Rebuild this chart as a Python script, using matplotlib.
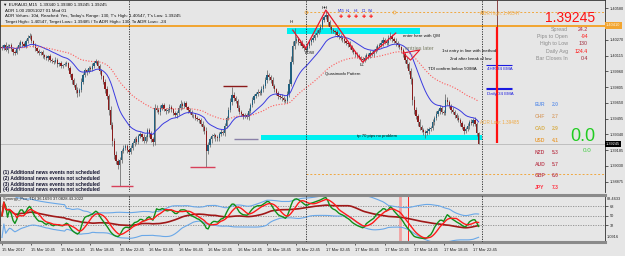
import numpy as np
import pandas as pd
import matplotlib
matplotlib.use("Agg")
import matplotlib.pyplot as plt
from matplotlib.patches import Rectangle

plt.rcParams['font.family'] = ['Liberation Sans', 'DejaVu Sans']

# ---- data: EURAUD M15, prices in pips above 1.3800 ----
first_open = 220
closes = [
    219, 222, 217, 221, 222, 218, 215, 214, 219, 222, 225, 223, 221, 226, 229, 231, 226, 222, 219, 216,
    214, 215, 212, 210, 209, 211, 207, 206, 205, 207, 203, 204, 201, 202, 203, 204, 199, 193, 187, 183,
    178, 175, 178, 186, 192, 197, 195, 199, 198, 201, 204, 206, 201, 196, 191, 186, 179, 172, 158, 143,
    128, 114, 108, 104, 109, 118, 121, 123, 119, 117, 121, 126, 129, 127, 132, 134, 131, 128, 131, 138,
    134, 129, 127, 160, 158, 156, 160, 163, 159, 157, 158, 161, 159, 155, 153, 155, 160, 164, 162, 165,
    161, 158, 156, 153, 153, 150, 149, 148, 144, 141, 137, 118, 124, 129, 132, 133, 131, 130, 134, 136,
    135, 142, 150, 158, 166, 173, 170, 167, 160, 156, 154, 152, 153, 151, 157, 163, 168, 172, 174, 176,
    175, 179, 182, 187, 192, 190, 187, 182, 179, 175, 172, 171, 170, 168, 167, 174, 184, 205, 221, 226,
    228, 225, 224, 221, 219, 217, 221, 225, 227, 229, 232, 234, 237, 240, 246, 249, 251, 244, 240, 237,
    236, 235, 232, 230, 229, 228, 226, 224, 223, 220, 217, 215, 213, 211, 210, 208, 207, 209, 212, 211,
    214, 213, 216, 218, 221, 222, 224, 227, 225, 224, 229, 231, 228, 226, 224, 222, 220, 217, 213, 207,
    203, 196, 188, 168, 158, 152, 146, 141, 138, 136, 135, 137, 139, 140, 146, 150, 154, 157, 160, 156,
    155, 168, 166, 162, 158, 156, 153, 150, 148, 145, 141, 137, 139, 142, 146, 145, 148, 144, 135, 124.5,
]
up_wick = [
    2, 1, 3, 2, 1, 2, 1, 2, 2, 3, 2, 1, 2, 2, 3, 3, 2, 1, 2, 1,
    2, 1, 2, 1, 2, 1, 2, 2, 1, 3, 2, 1, 2, 1, 2, 2, 1, 2, 1, 2,
    2, 3, 2, 3, 2, 2, 1, 2, 2, 3, 2, 2, 1, 2, 2, 1, 2, 3, 2, 4,
    3, 2, 4, 2, 3, 2, 3, 2, 2, 1, 3, 2, 2, 3, 2, 2, 1, 3, 2, 2,
    2, 3, 2, 4, 3, 2, 3, 2, 2, 1, 2, 3, 2, 1, 2, 2, 3, 4, 2, 2,
    2, 1, 2, 2, 1, 2, 2, 1, 2, 3, 2, 4, 3, 2, 2, 2, 1, 2, 2, 3,
    2, 3, 2, 3, 4, 8, 3, 2, 2, 3, 2, 1, 2, 2, 3, 2, 3, 2, 2, 3,
    2, 3, 2, 3, 5, 2, 2, 3, 2, 1, 2, 2, 3, 2, 2, 3, 4, 6, 5, 13,
    3, 2, 2, 3, 2, 2, 3, 2, 2, 3, 2, 3, 2, 3, 3, 2, 4, 3, 2, 2,
    2, 1, 2, 2, 3, 2, 2, 1, 2, 3, 2, 2, 1, 2, 2, 1, 2, 3, 2, 2,
    3, 2, 2, 3, 2, 2, 3, 3, 2, 2, 3, 4, 2, 2, 3, 2, 2, 1, 2, 2,
    3, 2, 3, 2, 4, 3, 2, 3, 2, 2, 2, 3, 2, 2, 3, 2, 3, 2, 3, 2,
    2, 6, 3, 2, 2, 3, 2, 2, 3, 2, 2, 3, 2, 3, 2, 3, 2, 3, 2, 1,
]
dn_wick = [
    2, 2, 1, 3, 2, 2, 3, 2, 1, 2, 2, 3, 1, 2, 2, 1, 2, 2, 3, 2,
    2, 2, 3, 2, 2, 3, 2, 2, 2, 1, 3, 2, 2, 2, 1, 2, 2, 3, 3, 2,
    3, 4, 3, 2, 2, 2, 3, 1, 2, 2, 2, 1, 2, 3, 3, 2, 4, 3, 5, 4,
    5, 4, 3, 4, 21, 3, 2, 2, 3, 2, 2, 2, 3, 2, 2, 2, 3, 2, 2, 3,
    3, 2, 4, 3, 2, 2, 3, 2, 2, 3, 2, 2, 3, 2, 2, 3, 2, 2, 3, 2,
    2, 3, 2, 2, 3, 2, 2, 3, 2, 4, 3, 16, 3, 2, 3, 2, 3, 2, 2, 2,
    2, 3, 2, 2, 2, 3, 3, 2, 3, 2, 2, 3, 2, 2, 3, 2, 2, 3, 2, 2,
    2, 2, 3, 2, 2, 3, 2, 2, 3, 2, 3, 2, 3, 2, 2, 2, 3, 2, 2, 3,
    2, 3, 2, 2, 3, 2, 2, 2, 3, 2, 2, 2, 1, 2, 2, 2, 2, 3, 2, 3,
    2, 3, 2, 2, 2, 3, 2, 2, 3, 2, 2, 2, 3, 2, 2, 2, 3, 2, 2, 3,
    2, 2, 3, 2, 2, 2, 2, 3, 2, 2, 2, 2, 3, 2, 3, 2, 2, 3, 3, 3,
    4, 3, 4, 5, 4, 3, 4, 3, 2, 3, 5, 2, 3, 2, 2, 3, 2, 2, 3, 2,
    2, 2, 3, 2, 3, 2, 3, 2, 2, 3, 2, 3, 2, 2, 3, 2, 3, 2, 3, 0,
]

time_labels = ["15 Mar 2017", "15 Mar 10:45", "15 Mar 14:45", "15 Mar 18:45", "15 Mar 22:45",
               "16 Mar 02:45", "16 Mar 06:45", "16 Mar 10:45", "16 Mar 14:45", "16 Mar 18:45",
               "16 Mar 22:45", "17 Mar 02:45", "17 Mar 06:45", "17 Mar 10:45", "17 Mar 14:45",
               "17 Mar 18:45", "17 Mar 22:45"]
label_step = 16
day_breaks = [69, 165, 261]

# 1.40425 is hidden under the orange level box, so it is left out
price_ticks = [258.0, 227.0, 211.5, 196.0, 180.5, 165.0, 149.5, 134.0, 118.5, 103.0, 87.5]
adr_high, adr_low = 254.7, 94.85
orange_level = 241.0
adr_marks = [165, 213, 261]

# drawn objects (bar index, pips)
zz_bars = [158, 165, 176, 196, 214]
zz_pips = [236.5, 218.8, 256.2, 205.0, 233.6]
tri_bars = [218, 227, 222, 218]
tri_pips = [214.0, 217.0, 207.0, 214.0]
zones = [(155, 227, 232.7, 238.6), (141, 261, 128.5, 133.4)]
swing_lines = [(59, 71, 83.0, '#d8405a'), (102, 116, 101.7, '#d8405a'),
               (120, 133, 181.5, '#8b1a1a'), (126, 139, 129.4, '#8a80a8')]
ema_levels = [(263, 277, 201.3), (263, 277, 176.7)]
signal_bar = 269
tdi_marks = [216.3, 220.7]

info_names = ["Spread", "Pips to Open", "High to Low", "Daily Avg", "Bar Closes In"]
info_values = ["24.2", "-94", "130", "124.4", "0:4"]
info_colors = ["#b0203a", "#ff2020", "#a03040", "#ff1010", "#a02030"]
ccy_names = ["EUR", "CHF", "CAD", "USD", "NZD", "AUD", "GBP", "JPY"]
ccy_values = [2.0, 2.7, 2.9, 4.1, 5.3, 5.7, 6.0, 7.3]
ccy_colors = ["#6f9be8", "#d9a878", "#d8b050", "#e8a040", "#c05060", "#c05060", "#c05060", "#ff3040"]

news = ["(1) Additional news events not scheduled", "(2) Additional news events not scheduled",
        "(3) Additional news events not scheduled", "(4) Additional news events not scheduled"]

# ---- figure ----
W, H = 625, 256
BG = '#e6e6e6'
fig = plt.figure(figsize=(W / 100, H / 100), dpi=100, facecolor=BG)


def P(p):
    return 1.38 + np.asarray(p, dtype=float) / 1e4


def ftext(x, y, s, **kw):
    kw.setdefault('va', 'center')
    return fig.text(x / W, 1 - y / H, s, **kw)


ax = fig.add_axes([0, 1 - 192 / H, 605 / W, 192 / H], facecolor=BG)
ax2 = fig.add_axes([0, 1 - 242 / H, 605 / W, 47 / H], facecolor=BG)

c = np.array(closes, dtype=float)
n = len(c)
x = np.arange(n)
o = np.r_[first_open, c[:-1]]
hi = np.maximum(o, c) + np.array(up_wick)
lo = np.minimum(o, c) - np.array(dn_wick)
bull = c >= o

# zones under candles
for b0, b1, p0, p1 in zones:
    ax.add_patch(Rectangle((b0, P(p0)), b1 - b0, (p1 - p0) / 1e4, color='#00f0f0', lw=0, zorder=1))

ax.axhline(P(c[-1]), color='#b8b8b8', lw=0.6, zorder=1)
ax.axhline(P(orange_level), color='#f2a530', lw=1.4, zorder=1)
ax.hlines(P([adr_high, adr_low]), day_breaks[1], 330, color='#f0a840', lw=0.7,
          linestyles=(0, (2, 2)), zorder=1)
ax.plot(adr_marks, P([adr_high] * len(adr_marks)), 'o', ms=2.2, mfc='none', mec='#f0a840', mew=0.5)

ax.vlines(x, P(lo), P(hi), color='#5c5c5c', lw=0.5, zorder=2)
body = np.maximum(np.abs(c - o), 0.5) / 1e4
ax.bar(x, body, bottom=P(np.minimum(o, c)), width=0.7,
       color=np.where(bull, '#21607e', '#8a1c1c'), lw=0, zorder=3)

s = pd.Series(c)
ax.plot(x, P(s.ewm(span=21, adjust=False).mean()), color='#3a3ae0', lw=0.7, zorder=4)
ax.plot(x, P(s.ewm(span=60, adjust=False).mean()), color='#ff5a5a', lw=0.8,
        ls=(0, (1, 1.5)), zorder=4)

for d in day_breaks:
    ax.axvline(d, color='#202020', lw=0.6, ls=(0, (1.5, 1.5)), zorder=5)
    ax2.axvline(d, color='#202020', lw=0.6, ls=(0, (1.5, 1.5)), zorder=5)

ax.plot(zz_bars, P(zz_pips), color='#e8162c', lw=0.9, zorder=6)
ax.plot(tri_bars, P(tri_pips), color='#e8162c', lw=0.8, zorder=6)
for b0, b1, p, col in swing_lines:
    ax.hlines(P(p), b0, b1, color=col, lw=1.0, zorder=6)
ax.hlines(P(ema_levels[0][2] + 0.8), ema_levels[0][0], ema_levels[0][1], color='#1a1ae0', lw=0.8)
for b0, b1, p in ema_levels[1:]:
    ax.hlines(P([p + 1.5, p + 3.0]), b0, b1, color='#1a1ae0', lw=0.8)
ax.vlines(signal_bar, P(239.6), P(270), color='#7a2a2a', lw=0.6, zorder=6)
ax.vlines(signal_bar, P(125.5), P(239.6), color='#ff1010', lw=1.6, zorder=6)

ax.set_xlim(-1.1, 327.7)
ax.set_ylim(P(77.4), P(266.1))
ax.set_xticks([])
ax.yaxis.tick_right()
ax.set_yticks(P(price_ticks))
ax.set_yticklabels([f"{v:.5f}" for v in P(price_ticks)])
ax.tick_params(axis='y', labelsize=2.8, length=2, width=0.5, pad=1.5, colors='#202020')
for sp in ['top', 'left', 'right']:
    ax.spines[sp].set_color('#303030')
    ax.spines[sp].set_linewidth(0.6)
ax.spines['bottom'].set_visible(False)

# ---- TDI ----
d = s.diff().fillna(0)
gain = d.clip(lower=0).ewm(alpha=1 / 13, adjust=True).mean()
loss = (-d).clip(lower=0).ewm(alpha=1 / 13, adjust=True).mean()
rsi = (100 - 100 / (1 + gain / loss)).fillna(50)
green = rsi.rolling(2, min_periods=1).mean()
red = rsi.rolling(7, min_periods=1).mean()
base = rsi.rolling(34, min_periods=1).mean()
sd = rsi.rolling(34, min_periods=2).std(ddof=0).bfill()
for lv in (68, 50, 32):
    ax2.axhline(lv, color='#8c8c8c', lw=0.6, ls=(0, (1.5, 1.5)))
for m, col, lw in zip(tdi_marks, ['#f2a0a0', '#ff2020'], [2.0, 0.7]):
    ax2.axvline(m, color=col, lw=lw)
ax2.plot(x, base + 1.6185 * sd, color='#6aa8e8', lw=0.8)
ax2.plot(x, base - 1.6185 * sd, color='#6aa8e8', lw=0.8)
ax2.plot(x, base, color='#a01818', lw=1.2)
ax2.plot(x, green, color='#10901a', lw=1.0)
ax2.plot(x, red, color='#ff1a1a', lw=1.0)
ax2.set_xlim(-1.1, 327.7)
ax2.set_ylim(1.0916, 88.4633)
ax2.yaxis.tick_right()
ax2.set_yticks([68, 50, 32])
ax2.set_yticklabels(["68", "50", "32"])
ax2.tick_params(axis='y', labelsize=2.8, length=2, width=0.5, pad=1.5, colors='#202020')
ax2.set_xticks(np.arange(len(time_labels)) * label_step)
ax2.set_xticklabels(time_labels, ha='left')
ax2.tick_params(axis='x', labelsize=3, length=2, width=0.5, pad=2.5, colors='#202020')
for sp in ['top', 'bottom']:
    ax2.spines[sp].set_color('#8a8a8a')
    ax2.spines[sp].set_linewidth(2.2)
for sp in ['left', 'right']:
    ax2.spines[sp].set_color('#303030')
    ax2.spines[sp].set_linewidth(0.6)
ftext(3, 199, "Synergy_Pro_TDI 36.1693 37.0828 43.2022", fontsize=3, color='#202020')
ftext(607, 199, "88.4633", fontsize=2.8, color='#202020')
ftext(607, 237, "1.0916", fontsize=2.8, color='#202020')

# ---- texts on main panel ----
ftext(3, 5, "\u25bc EURAUD,M15  1.39340 1.39380 1.39245 1.39245", fontsize=3.2, color='#101010')
ftext(5, 11, "ADR 1.00 20051027 01 Mod 01", fontsize=3.2, color='#101010')
ftext(5, 16.5, "ADR Values: 10d, Reached: Yes, Today's Range: 130, T's High: 1.40547, T's Low: 1.39245",
      fontsize=3.2, color='#101010')
ftext(5, 22, "Target High= 1.40547, Target Low= 1.39485 / To ADR High= 130, To ADR Low= -24",
      fontsize=3.2, color='#101010')
for k, line in enumerate(news):
    ftext(3, 172.5 + 5.8 * k, line, fontsize=3.5, fontweight='bold', color='#141430')

ftext(480, 14, "ADR High: 1.40547", fontsize=3.3, color='#f0a840')
ftext(480, 123, "ADR Low: 1.39485", fontsize=3.3, color='#f0a840')
ftext(291, 22, "H", fontsize=3.2, ha='center', color='#101010')
ftext(325, 8, "HH", fontsize=3.2, ha='center', color='#101010')
ftext(305, 53, "LOW", fontsize=3.2, color='#101010')
ftext(362, 64.5, "LL", fontsize=3.2, ha='center', color='#101010')
ftext(325, 74, "Quasimodo Pattern", fontsize=3, color='#101010')
ftext(403, 35.5, "enter here with QM", fontsize=3.2, color='#101010')
ftext(405, 48, "entries later", fontsize=4, color='#7c8068')
ftext(442, 51, "1st entry in line with method", fontsize=3.2, color='#101010')
ftext(450, 59.5, "2nd after break of low", fontsize=3.2, color='#101010')
ftext(428, 69.5, "TDI confirm below 50/MA", fontsize=3.2, color='#101010')
ftext(487, 69.5, "4HR 34 EMA", fontsize=3.2, color='#1a1ae0')
ftext(487, 94, "Daily 34 EMA", fontsize=3.2, color='#1a1ae0')
ftext(357, 136, "tp 70 pips no problem", fontsize=3.1, color='#101010')
for k, tf in enumerate(["M15", "H1", "H4", "D1", "W1"]):
    ftext(341 + 7.5 * k, 11, tf, fontsize=2.6, ha='center', color='#3030d0')
    ftext(341 + 7.5 * k, 16, "\u271a", fontsize=3.6, ha='center', color='#ff1010')

# info panel
ftext(595, 18.5, "1.39245", fontsize=10, ha='right', color='#ff1010')
for k, (nm, val, col) in enumerate(zip(info_names, info_values, info_colors)):
    ftext(568, 29.5 + 7.2 * k, nm, fontsize=3.8, ha='right', color='#8c8c8c')
    ftext(588, 29.5 + 7.2 * k, val, fontsize=3.8, ha='right', color=col)
for k, (nm, val, col) in enumerate(zip(ccy_names, ccy_values, ccy_colors)):
    ftext(535, 105 + 11.8 * k, nm, fontsize=3.6, color=col, fontweight='bold')
    ftext(552, 105 + 11.8 * k, f"{val:.1f}", fontsize=3.6, color=col, fontweight='bold')
ftext(583, 136.5, "0.0", fontsize=13, ha='center', color='#22cc22')
ftext(587, 151, "0.0", fontsize=4.5, ha='center', color='#44cc44')

# axis boxes
ftext(606, 25.5, f"{P(orange_level):.5f}", fontsize=2.8, color='#fff6e0',
      bbox=dict(fc='#f2a530', ec='none', pad=0.8))
ftext(606, 144, f"{P(c[-1]):.5f}", fontsize=2.8, color='white',
      bbox=dict(fc='black', ec='none', pad=0.8))

fig.savefig("out.png", dpi=100, facecolor=BG)
